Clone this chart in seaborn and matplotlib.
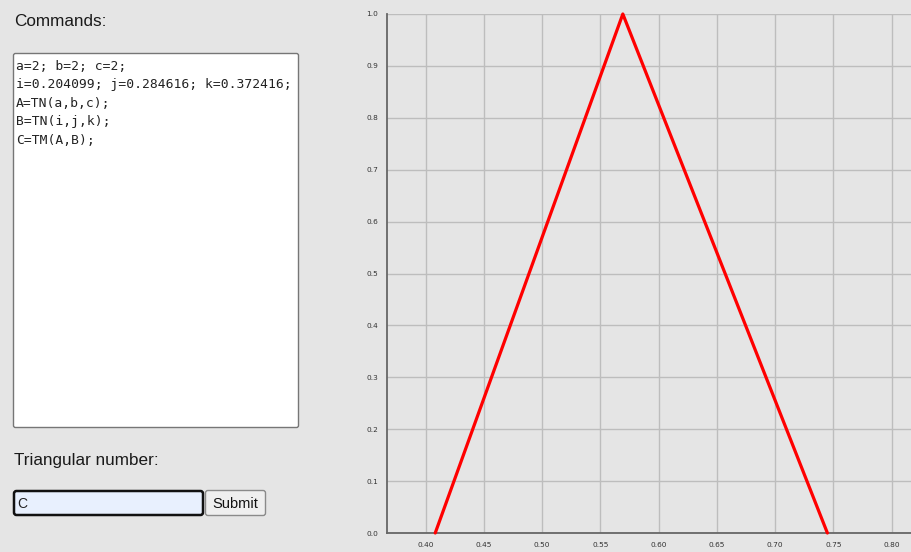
import seaborn as sns
import matplotlib.pyplot as plt
import pandas as pd
from matplotlib.patches import FancyBboxPatch

# values of the triangular number C = TM(A, B)
support_x = [0.408198, 0.569232, 0.744832]
membership = [0.0, 1.0, 0.0]

x_ticks = [0.40, 0.45, 0.50, 0.55, 0.60, 0.65, 0.70, 0.75, 0.80]
y_ticks = [0.0, 0.1, 0.2, 0.3, 0.4, 0.5, 0.6, 0.7, 0.8, 0.9, 1.0]

command_lines = [
    "a=2; b=2; c=2;",
    "i=0.204099; j=0.284616; k=0.372416;",
    "A=TN(a,b,c);",
    "B=TN(i,j,k);",
    "C=TM(A,B);",
]

BG = '#e5e5e5'
W, H = 911, 552

sns.set_style('white')
plt.rcParams['font.family'] = ['Liberation Sans', 'DejaVu Sans']

fig = plt.figure(figsize=(W / 100, H / 100), dpi=100)
fig.patch.set_facecolor(BG)

# left form panel, drawn in pixel coordinates
panel = fig.add_axes([0, 0, 1, 1])
panel.set_xlim(0, W)
panel.set_ylim(H, 0)
panel.axis('off')
panel.patch.set_alpha(0)

panel.text(14, 21, "Commands:", fontsize=12.3, color='#1a1a1a', va='center', ha='left')

panel.add_patch(FancyBboxPatch((13.5, 53.5), 285, 374, boxstyle='round,pad=0,rounding_size=2',
                               facecolor='white', edgecolor='#767676', lw=1))
for n, line in enumerate(command_lines):
    panel.text(16, 66 + n * 18.6, line, fontsize=9.4, family='DejaVu Sans Mono',
               color='#222222', va='center', ha='left')

panel.text(14, 460, "Triangular number:", fontsize=12.3, color='#1a1a1a', va='center', ha='left')

panel.add_patch(FancyBboxPatch((14, 491), 189, 24, boxstyle='round,pad=0,rounding_size=2.5',
                               facecolor='#e8f0fe', edgecolor='#111111', lw=1.8))
panel.text(17, 503.5, "C", fontsize=10, color='#222222', va='center', ha='left')

panel.add_patch(FancyBboxPatch((205.5, 490.5), 60, 25, boxstyle='round,pad=0,rounding_size=2.5',
                               facecolor='#efefef', edgecolor='#8a8a8a', lw=1))
panel.text(235.5, 503.5, "Submit", fontsize=10.5, color='#111111', va='center', ha='center')

# chart
ax = fig.add_axes([387 / W, 19 / H, (W - 387) / W, 519 / H])
ax.set_facecolor(BG)
df = pd.DataFrame({'x': support_x, 'mu': membership})
sns.lineplot(data=df, x='x', y='mu', sort=False, color='red', lw=2.3, ax=ax, zorder=5, clip_on=False)

ax.set_xlim(0.3668, 0.8166)
ax.set_ylim(0, 1)
ax.set_xticks(x_ticks)
ax.set_xticklabels([f"{v:.2f}" for v in x_ticks])
ax.set_yticks(y_ticks)
ax.set_yticklabels([f"{v:.1f}" for v in y_ticks])
ax.set_xticks([0.3668], minor=True)
ax.set_xlabel('')
ax.set_ylabel('')

ax.grid(True, which='major', color='#bdbdbd', lw=1.0)
ax.set_axisbelow(True)
for side in ['top', 'right']:
    ax.spines[side].set_visible(False)
for side in ['left', 'bottom']:
    ax.spines[side].set_color('#666666')
    ax.spines[side].set_linewidth(1.3)

ax.tick_params(axis='both', which='both', length=5, width=1.1, color='#666666',
               labelsize=5.3, labelcolor='#333333', pad=1.5)
ax.tick_params(axis='x', which='minor', length=5)
for lab in ax.get_xticklabels() + ax.get_yticklabels():
    lab.set_family('DejaVu Sans')

fig.savefig('out.png', dpi=100, facecolor=BG)
